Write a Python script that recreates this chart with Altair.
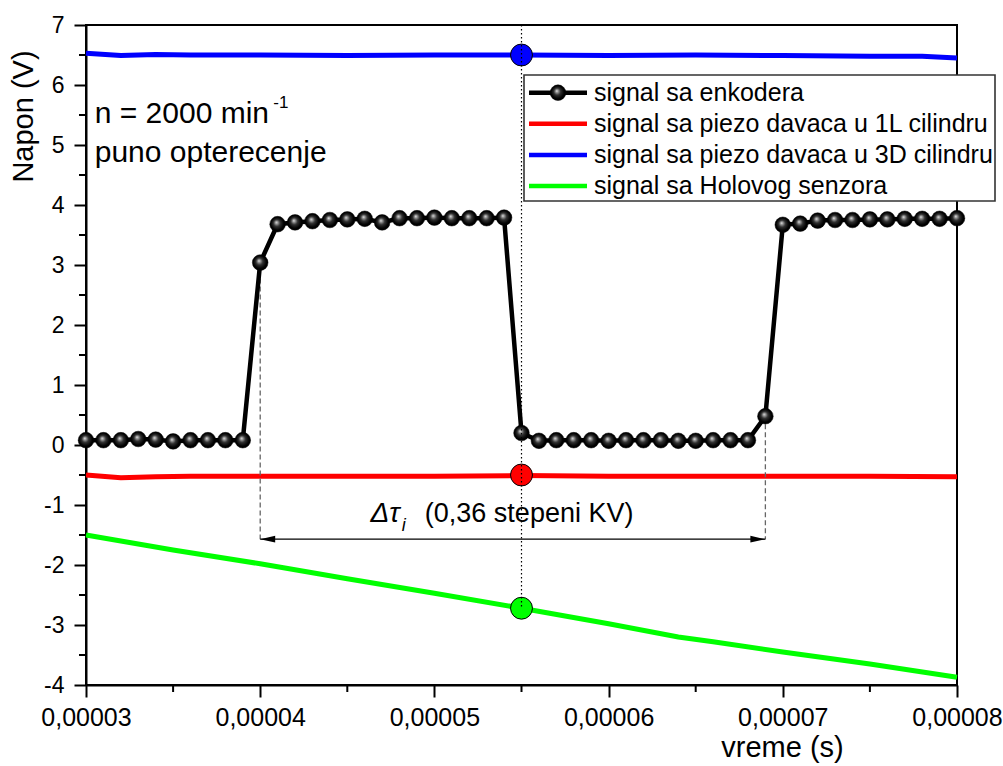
import altair as alt
import pandas as pd

# ---- measured signals (time in microseconds, voltage in V) ----
t_enc = [30, 31, 32, 33, 34, 35, 36, 37, 38, 39,
         40, 41, 42, 43, 44, 45, 46, 47, 48, 49,
         50, 51, 52, 53, 54, 55, 56, 57, 58, 59,
         60, 61, 62, 63, 64, 65, 66, 67, 68, 69,
         70, 71, 72, 73, 74, 75, 76, 77, 78, 79, 80]
v_enc = [0.08, 0.08, 0.08, 0.10, 0.09, 0.06, 0.08, 0.08, 0.08, 0.08,
         3.04, 3.68, 3.71, 3.73, 3.75, 3.76, 3.77, 3.71, 3.78, 3.78,
         3.79, 3.78, 3.78, 3.78, 3.79, 0.20, 0.07, 0.08, 0.08, 0.08,
         0.07, 0.08, 0.08, 0.08, 0.07, 0.07, 0.08, 0.08, 0.08, 0.48,
         3.67, 3.69, 3.74, 3.75, 3.75, 3.76, 3.76, 3.77, 3.77, 3.77, 3.78]

t_1L = [30, 32, 34, 36, 40, 45, 50, 55, 60, 65, 70, 75, 80]
v_1L = [-0.50, -0.545, -0.53, -0.52, -0.52, -0.52, -0.52, -0.51, -0.52, -0.52, -0.52, -0.52, -0.53]

t_3D = [30, 32, 34, 36, 40, 45, 50, 55, 60, 65, 70, 75, 78, 80]
v_3D = [6.53, 6.49, 6.51, 6.50, 6.50, 6.49, 6.50, 6.50, 6.49, 6.50, 6.49, 6.48, 6.48, 6.45]

t_hall = [30, 35, 40, 45, 50, 55, 60, 64, 66, 70, 75, 80]
v_hall = [-1.50, -1.75, -1.98, -2.23, -2.47, -2.72, -2.98, -3.20, -3.28, -3.45, -3.65, -3.87]

# reference instant and the markers on it
t_ref = 55
ref_3D, ref_1L, ref_hall = 6.50, -0.50, -2.72

# encoder edge interval
t_a, v_a = 40, 3.04
t_b, v_b = 69, 0.48
y_arrow = -1.57

x_major = [30, 40, 50, 60, 70, 80]
x_minor = [35, 45, 55, 65, 75]
y_major = [-4, -3, -2, -1, 0, 1, 2, 3, 4, 5, 6, 7]
y_minor = [-3.5, -2.5, -1.5, -0.5, 0.5, 1.5, 2.5, 3.5, 4.5, 5.5, 6.5]

legend_labels = ["signal sa enkodera",
                 "signal sa piezo davaca u 1L cilindru",
                 "signal sa piezo davaca u 3D cilindru",
                 "signal sa Holovog senzora"]
legend_colors = ["#000000", "#ff0000", "#0000ff", "#00ff00"]

FONT = "Liberation Sans"
W, H = 871, 660

x_axis = alt.Axis(values=x_major,
                  labelExpr="replace(format(datum.value / 1000000, '.5f'), '.', ',')",
                  labelFlush=False,
                  title="vreme (s)", titleX=696, titleY=71, titleAlign="center",
                  titleBaseline="alphabetic", titleFontSize=29)
y_axis = alt.Axis(values=y_major, labelExpr="'' + datum.value",
                  title="Napon (V)", titleX=-54, titleY=91, titleAlign="center",
                  titleBaseline="alphabetic", titleAngle=-90, titleFontSize=29)


def X(f="t"):
    return alt.X(f"{f}:Q", scale=alt.Scale(domain=[30, 80], nice=False, zero=False), axis=x_axis)


def Y(f="v"):
    return alt.Y(f"{f}:Q", scale=alt.Scale(domain=[-4, 7], nice=False, zero=False), axis=y_axis)


def line(ts, vs, color, width=5):
    df = pd.DataFrame({"t": ts, "v": vs})
    return alt.Chart(df).mark_line(color=color, strokeWidth=width).encode(x=X(), y=Y())


sphere = alt.RadialGradient(
    gradient="radial", x1=0.42, y1=0.38, r1=0.0, x2=0.5, y2=0.5, r2=0.55,
    stops=[alt.GradientStop(color="#f2f2f2", offset=0.0),
           alt.GradientStop(color="#a8a8a8", offset=0.12),
           alt.GradientStop(color="#303030", offset=0.4),
           alt.GradientStop(color="#000000", offset=0.75)])

BALL = 245

enc_df = pd.DataFrame({"t": t_enc, "v": v_enc})
enc_line = alt.Chart(enc_df).mark_line(color="black", strokeWidth=4.5).encode(x=X(), y=Y())
enc_pts = alt.Chart(enc_df).mark_point(shape="circle", size=BALL, filled=True, fill=sphere,
                                       stroke="#000000", strokeWidth=0.5, opacity=1).encode(x=X(), y=Y())

# dashed guides from the encoder edges down to the interval arrow
guides = alt.Chart(pd.DataFrame({"t": [t_a, t_b], "v": [v_a, v_b], "v2": [y_arrow, y_arrow]})).mark_rule(
    color="#666666", strokeWidth=1.3, strokeDash=[5, 3]).encode(x=X(), y=Y(), y2="v2:Q")

arrow = alt.Chart(pd.DataFrame({"t": [t_a], "t2": [t_b], "v": [y_arrow]})).mark_rule(
    color="black", strokeWidth=1.3).encode(x=X(), x2="t2:Q", y=Y())
head_l = alt.Chart(pd.DataFrame({"t": [t_a], "v": [y_arrow]})).mark_point(
    shape="M0,0L2,-0.45L2,0.45Z", size=225, filled=True, color="black", opacity=1).encode(x=X(), y=Y())
head_r = alt.Chart(pd.DataFrame({"t": [t_b], "v": [y_arrow]})).mark_point(
    shape="M0,0L-2,-0.45L-2,0.45Z", size=225, filled=True, color="black", opacity=1).encode(x=X(), y=Y())

ref_df = pd.DataFrame({"t": [t_ref] * 3, "v": [ref_3D, ref_1L, ref_hall],
                       "c": ["#0000ff", "#ff0000", "#00ff00"]})
ref_pts = alt.Chart(ref_df).mark_point(shape="circle", size=480, filled=True, stroke="black",
                                       strokeWidth=1, opacity=1).encode(
    x=X(), y=Y(), fill=alt.Fill("c:N", scale=None))

ref_line = alt.Chart(pd.DataFrame({"t": [t_ref], "v": [7], "v2": [ref_hall]})).mark_rule(
    color="black", strokeWidth=1.2, strokeDash=[1.5, 2.5]).encode(x=X(), y=Y(), y2="v2:Q")

# minor ticks on both axes
minor_x = alt.Chart(pd.DataFrame({"t": x_minor})).mark_rule(color="black", strokeWidth=2).encode(
    x=X(), y=alt.value(H), y2=alt.value(H + 7))
minor_y = alt.Chart(pd.DataFrame({"v": y_minor})).mark_rule(color="black", strokeWidth=2).encode(
    y=Y(), x=alt.value(0), x2=alt.value(-7))


def label(t, v, text, size, **kw):
    return alt.Chart(pd.DataFrame({"t": [t], "v": [v]})).mark_text(
        text=text, font=FONT, fontSize=size, color="black", align=kw.pop("align", "left"),
        baseline="alphabetic", **kw).encode(x=X(), y=Y())


texts = [
    label(30.5, 5.37, "n = 2000 min", 30),
    label(40.75, 5.62, "-1", 17),
    label(30.5, 4.72, "puno opterecenje", 30),
    label(49.45, -1.28, "Δτ", 28, align="right", dx=-25, fontStyle="italic"),
    label(49.45, -1.28, "i", 18, dx=-23, dy=9, fontStyle="italic"),
    label(49.45, -1.28, "(0,36 stepeni KV)", 27),
]

# legend box
one = alt.Data(values=[{}])
legend = [alt.Chart(one).mark_rect(fill="white", stroke="#333333", strokeWidth=1.6).encode(
    x=alt.value(438), x2=alt.value(909), y=alt.value(50), y2=alt.value(176))]
for i, (lab, col) in enumerate(zip(legend_labels, legend_colors)):
    cy = 67.7 + 31.1 * i
    legend.append(alt.Chart(one).mark_rule(color=col, strokeWidth=4.5).encode(
        x=alt.value(443), x2=alt.value(501), y=alt.value(cy), y2=alt.value(cy)))
    legend.append(alt.Chart(one).mark_text(text=lab, font=FONT, fontSize=25, color="black",
                                           align="left", baseline="alphabetic").encode(
        x=alt.value(508), y=alt.value(cy + 8)))
    if i == 0:
        legend.append(alt.Chart(one).mark_point(shape="circle", size=BALL, filled=True, fill=sphere,
                                                stroke="black", strokeWidth=0.5, opacity=1).encode(
            x=alt.value(472), y=alt.value(cy)))

chart = alt.layer(
    minor_x, minor_y,
    line(t_3D, v_3D, "#0000ff"),
    line(t_1L, v_1L, "#ff0000"),
    line(t_hall, v_hall, "#00ff00"),
    guides, arrow, head_l, head_r,
    enc_line, enc_pts,
    ref_pts, ref_line,
    *texts,
    *legend,
).properties(
    width=W, height=H,
    autosize=alt.AutoSizeParams(type="none"),
    padding={"left": 86, "top": 25, "right": 46, "bottom": 81},
).configure_view(
    stroke="black", strokeWidth=2
).configure_axis(
    grid=False, domainColor="black", domainWidth=2, tickColor="black", tickWidth=2,
    tickSize=12, labelFont=FONT, titleFont=FONT, labelColor="black", titleColor="black",
    titleFontWeight="normal",
).configure_axisX(
    labelFontSize=25, labelPadding=8
).configure_axisY(
    labelFontSize=23, labelPadding=10
)

chart.save("out.html", embed_options={"renderer": "svg", "actions": False})
